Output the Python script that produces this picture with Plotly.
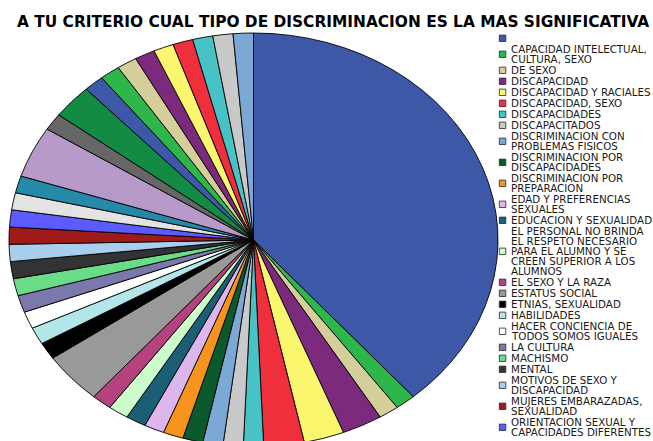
import textwrap
import plotly.graph_objects as go

# ---------------- data ----------------
categories = [
    " ",
    "CAPACIDAD INTELECTUAL, CULTURA, SEXO",
    "DE SEXO",
    "DISCAPACIDAD",
    "DISCAPACIDAD Y RACIALES",
    "DISCAPACIDAD, SEXO",
    "DISCAPACIDADES",
    "DISCAPACITADOS",
    "DISCRIMINACION CON PROBLEMAS FISICOS",
    "DISCRIMINACION POR DISCAPACIDADES",
    "DISCRIMINACION POR PREPARACION",
    "EDAD Y PREFERENCIAS SEXUALES",
    "EDUCACION Y SEXUALIDAD",
    "EL PERSONAL NO BRINDA EL RESPETO NECESARIO PARA EL ALUMNO Y SE CREEN SUPERIOR A LOS ALUMNOS",
    "EL SEXO Y LA RAZA",
    "ESTATUS SOCIAL",
    "ETNIAS, SEXUALIDAD",
    "HABILIDADES",
    "HACER CONCIENCIA DE TODOS SOMOS IGUALES",
    "LA CULTURA",
    "MACHISMO",
    "MENTAL",
    "MOTIVOS DE SEXO Y DISCAPACIDAD",
    "MUJERES EMBARAZADAS, SEXUALIDAD",
    "ORIENTACION SEXUAL Y CAPACIDADES DIFERENTES",
    "PERSONAS CON CAPACIDADES DIFERENTES",
    "POBREZA",
    "PREFERENCIAS SEXUALES",
    "RACIAL",
    "RACISMO",
    "RAZA",
    "RELIGION",
    "RELIGION Y SEXO",
    "SEXO",
    "SEXUAL",
    "SEXUALIDAD",
    "SOCIAL",
    "TODAS",
    "VESTIMENTA",
]

counts = [29, 1, 1, 2, 2, 2, 1, 1, 1, 1, 1, 1, 1, 1, 1, 3, 1, 1, 1, 1, 1, 1, 1, 1, 1,
          1, 1, 3, 1, 2, 1, 1, 1, 1, 1, 1, 1, 1, 1]

palette = [
    "#3E58A8", "#2EB64B", "#D4CF9A", "#7C2A7E", "#FAF66E", "#EF2F3B",
    "#47C2C6", "#C9C9C9", "#7BA8D5", "#0B5A2E", "#F7941D", "#DCB6EC",
    "#1B5F76", "#CCFCCC", "#B4427F", "#999999", "#000000", "#B3E6E8",
    "#FFFFFF", "#7B79AB", "#6ADB87", "#333333", "#AACFEE", "#A01A1A",
    "#5B5BFF", "#E3E3E3", "#2689A8", "#B79AC9", "#666666", "#138B45",
]
colors = [palette[i % len(palette)] for i in range(len(categories))]

title_text = "A TU CRITERIO CUAL TIPO DE DISCRIMINACION ES LA MAS SIGNIFICATIVA"

# ---------------- layout constants (pixels) ----------------
W, H = 653, 441
CX, CY = 253.5, 240.0       # pie centre
R0 = 200.0                  # radius plotly draws
RX, RY = 244.5, 207.0       # final elliptical radii

def px(x):
    return x / W

def py(y):
    return 1 - y / H

fig = go.Figure(go.Pie(
    labels=categories,
    values=counts,
    sort=False,
    direction="clockwise",
    rotation=0,
    textinfo="none",
    hoverinfo="label+value+percent",
    marker=dict(colors=colors, line=dict(color="#000000", width=0.8)),
    domain=dict(x=[px(CX - R0), px(CX + R0)], y=[py(CY + R0), py(CY - R0)]),
    showlegend=False,
))

annotations = [dict(
    text="<b>" + title_text + "</b>", x=px(333), y=py(21.5), xref="paper", yref="paper",
    xanchor="center", yanchor="middle", showarrow=False,
    font=dict(family="DejaVu Sans", size=15.4, color="#000000"),
)]
shapes = []

# manual compact legend
LINE_PITCH, ITEM_PITCH = 10.0, 11.0
y = 38.3
for lab, col in zip(categories, colors):
    lines = textwrap.wrap(lab.strip(), 23) or [""]
    centres = [y + k * LINE_PITCH for k in range(len(lines))]
    if centres[0] > H - 2:
        break
    for line, cy in zip(lines, centres):
        if line:
            annotations.append(dict(
                text=line, x=px(509.5), y=py(cy), xref="paper", yref="paper",
                xanchor="left", yanchor="middle", showarrow=False,
                font=dict(family="DejaVu Sans", size=10.3, color="#1a1a1a"),
                borderpad=0,
            ))
    sc = sum(centres) / len(centres)
    shapes.append(dict(
        type="rect", xref="paper", yref="paper",
        x0=px(499.3), x1=px(505.8), y0=py(sc + 3.2), y1=py(sc - 3.2),
        fillcolor=col, line=dict(color="#2a2a2a", width=0.8), layer="above",
    ))
    y = centres[-1] + ITEM_PITCH

fig.update_layout(
    width=W, height=H,
    margin=dict(l=0, r=0, t=0, b=0),
    paper_bgcolor="#FFFFFF",
    plot_bgcolor="#FFFFFF",
    annotations=annotations,
    shapes=shapes,
)

sx, sy = RX / R0, RY / R0
post = (
    "var st=document.createElement('style');"
    "st.textContent='html,body{margin:0;padding:0;overflow:hidden}"
    ".pielayer{transform-origin:%.1fpx %.1fpx;transform:scale(%.4f,%.4f);}';"
    "document.head.appendChild(st);" % (CX, CY, sx, sy)
)
fig.write_html("out.html", post_script=post, config={"displayModeBar": False})
